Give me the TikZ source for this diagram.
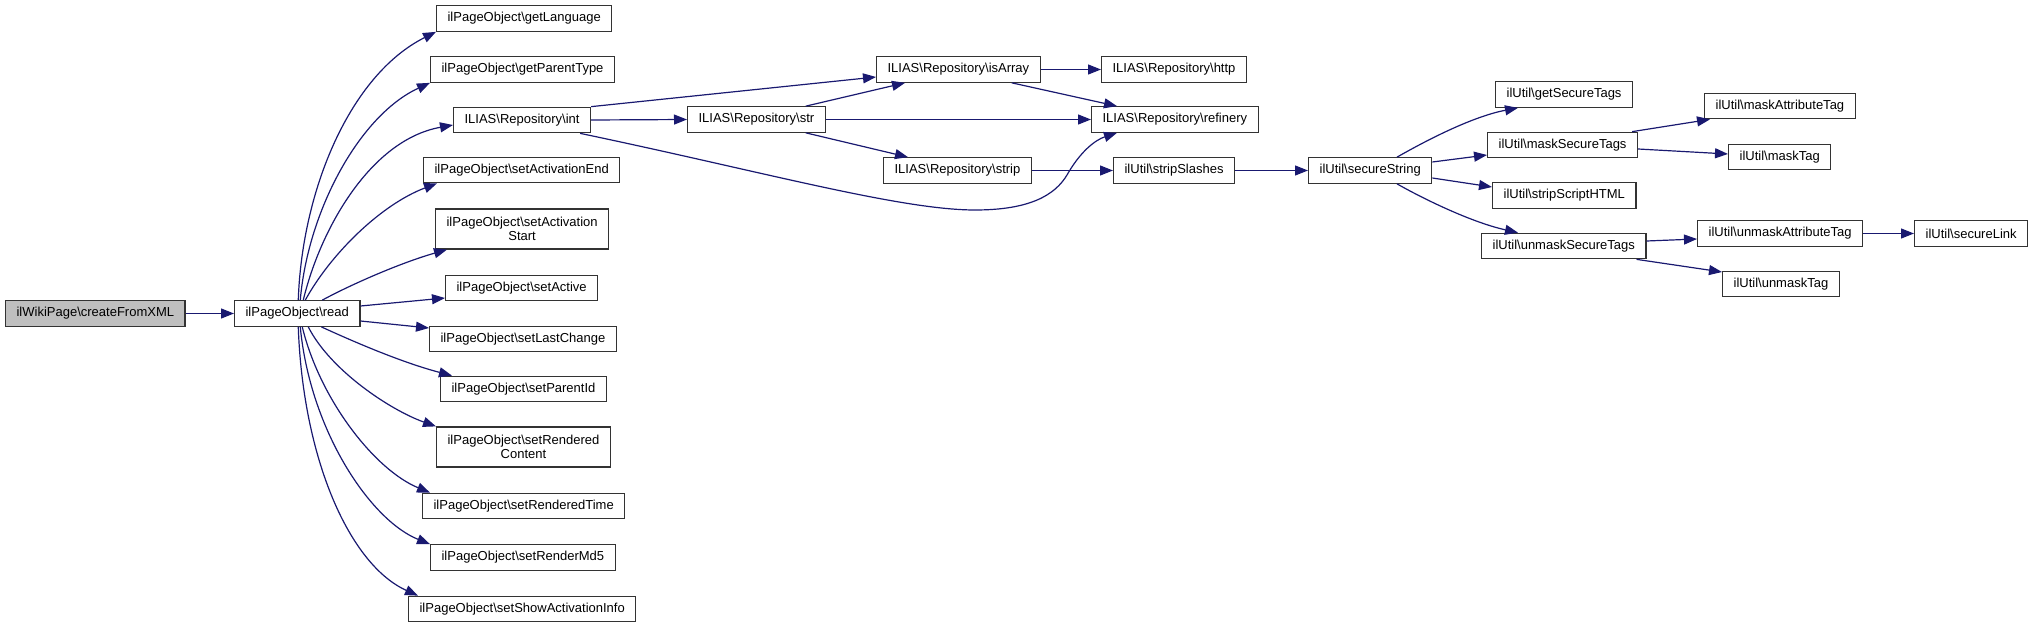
\documentclass[tikz,border=0pt]{standalone}
\usepackage{fontspec}
\setmainfont{Liberation Sans}
\usetikzlibrary{arrows.meta,calc}
\definecolor{edgeblue}{HTML}{191970}
\definecolor{boxline}{HTML}{333333}
\definecolor{rootfill}{HTML}{BFBFBF}
\tikzset{
  box/.style={draw=boxline, line width=1.2bp, fill=white, anchor=west,
    minimum height=25.5bp, inner xsep=11bp, inner ysep=0pt,
    font=\fontsize{13bp}{14.5bp}\selectfont, align=center},
  rootbox/.style={box, fill=rootfill},
  tall/.style={minimum height=40bp},
  call/.style={draw=edgeblue, line width=1.2bp,
    -{Triangle[length=13bp,width=10bp]}, color=edgeblue}
}
\begin{document}
\begin{tikzpicture}[x=1bp,y=-1bp]
\useasboundingbox (0,0) rectangle (2035,627);
% nodes
\node[rootbox] (root) at (5,313.5) {ilWikiPage\textbackslash createFromXML};
\node[box] (read) at (234,313.5) {ilPageObject\textbackslash read};
\node[box] (gl) at (436,18.5) {ilPageObject\textbackslash getLanguage};
\node[box] (gpt) at (430,69.5) {ilPageObject\textbackslash getParentType};
\node[box] (int) at (453,120) {ILIAS\textbackslash Repository\textbackslash int};
\node[box] (sae) at (423,170) {ilPageObject\textbackslash setActivationEnd};
\node[box,tall] (sas) at (435,229) {ilPageObject\textbackslash setActivation\\Start};
\node[box] (sa) at (445,288) {ilPageObject\textbackslash setActive};
\node[box] (slc) at (429,339) {ilPageObject\textbackslash setLastChange};
\node[box] (spi) at (440,389) {ilPageObject\textbackslash setParentId};
\node[box,tall] (src) at (436,447) {ilPageObject\textbackslash setRendered\\Content};
\node[box] (srt) at (422,506) {ilPageObject\textbackslash setRenderedTime};
\node[box] (smd) at (430,557.5) {ilPageObject\textbackslash setRenderMd5};
\node[box] (ssai) at (408,609) {ilPageObject\textbackslash setShowActivationInfo};
\node[box] (str) at (687,119.5) {ILIAS\textbackslash Repository\textbackslash str};
\node[box] (isa) at (876,69.5) {ILIAS\textbackslash Repository\textbackslash isArray};
\node[box] (http) at (1101,69.5) {ILIAS\textbackslash Repository\textbackslash http};
\node[box] (ref) at (1091,119.5) {ILIAS\textbackslash Repository\textbackslash refinery};
\node[box] (strip) at (883,170.5) {ILIAS\textbackslash Repository\textbackslash strip};
\node[box] (ssl) at (1113,170.5) {ilUtil\textbackslash stripSlashes};
\node[box] (ss) at (1308,170.5) {ilUtil\textbackslash secureString};
\node[box] (gst) at (1495,94.5) {ilUtil\textbackslash getSecureTags};
\node[box] (mst) at (1487,145) {ilUtil\textbackslash maskSecureTags};
\node[box] (ssh) at (1492,195.5) {ilUtil\textbackslash stripScriptHTML};
\node[box] (ust) at (1481,246) {ilUtil\textbackslash unmaskSecureTags};
\node[box] (mat) at (1704,106) {ilUtil\textbackslash maskAttributeTag};
\node[box] (mt) at (1728,157) {ilUtil\textbackslash maskTag};
\node[box] (uat) at (1697,233.5) {ilUtil\textbackslash unmaskAttributeTag};
\node[box] (sl) at (1914,233.5) {ilUtil\textbackslash secureLink};
\node[box] (ut) at (1722,284) {ilUtil\textbackslash unmaskTag};
% edges
\draw[call] (root.east) -- (read.west);
\draw[call] ($(read.north)+(1,0)$) .. controls (302,190) and (350,75) .. (gl.south west);
\draw[call] ($(read.north)+(3,0)$) .. controls (308,210) and (360,115) .. (gpt.south west);
\draw[call] ($(read.north)+(6,0)$) .. controls (320,230) and (370,140) .. ($(int.west)+(0,5)$);
\draw[call] ($(read.north)+(8,0)$) .. controls (330,255) and (380,205) .. ($(sae.south west)+(14,0)$);
\draw[call] ($(read.north)+(25,0)$) .. controls (350,285) and (400,263) .. ($(sas.south west)+(12,0)$);
\draw[call] ($(read.east)+(0,-7.5)$) -- ($(sa.west)+(0,10)$);
\draw[call] ($(read.east)+(0,7.5)$) -- ($(slc.west)+(0,-11)$);
\draw[call] ($(read.south)+(24,0)$) .. controls (350,340) and (400,362) .. ($(spi.north west)+(12,0)$);
\draw[call] ($(read.south)+(11,0)$) .. controls (330,370) and (390,410) .. (src.north west);
\draw[call] ($(read.south)+(5,0)$) .. controls (320,400) and (375,470) .. ($(srt.north west)+(8,0)$);
\draw[call] ($(read.south)+(3,0)$) .. controls (310,430) and (370,520) .. (smd.north west);
\draw[call] ($(read.south)+(1,0)$) .. controls (303,460) and (350,565) .. ($(ssai.north west)+(10,0)$);
\draw[call] (int.east) -- (str.west);
\draw[call] (int.north east) -- ($(isa.west)+(0,7.5)$);
\draw[call] ($(int.south east)+(-11,0)$) .. controls (760,171) and (900,210) .. (975,210)
  .. controls (1030,210) and (1055,195) .. (1067,175)
  .. controls (1080,152) and (1095,140) .. ($(ref.south west)+(26,0)$);
\draw[call] ($(str.north east)+(-20,0)$) -- ($(isa.south west)+(29,0)$);
\draw[call] (str.east) -- (ref.west);
\draw[call] ($(str.south east)+(-20,0)$) -- ($(strip.north west)+(25,0)$);
\draw[call] (isa.east) -- (http.west);
\draw[call] ($(isa.south east)+(-29,0)$) -- ($(ref.north west)+(26,0)$);
\draw[call] (strip.east) -- (ssl.west);
\draw[call] (ssl.east) -- (ss.west);
\draw[call] ($(ss.north west)+(89,0)$) .. controls (1420,144) and (1470,117) .. ($(gst.south west)+(23,0)$);
\draw[call] ($(ss.east)+(0,-8.5)$) -- ($(mst.west)+(0,10)$);
\draw[call] ($(ss.east)+(0,7.5)$) -- ($(ssh.west)+(0,-8.5)$);
\draw[call] ($(ss.south west)+(89,0)$) .. controls (1420,197) and (1470,222) .. ($(ust.north west)+(37,0)$);
\draw[call] ($(mst.north east)+(-6,0)$) -- ($(mat.south west)+(6,0)$);
\draw[call] ($(mst.east)+(0,4)$) -- ($(mt.west)+(0,-3)$);
\draw[call] ($(ust.east)+(0,-5)$) -- ($(uat.west)+(0,5.5)$);
\draw[call] ($(ust.south east)+(-10,0)$) -- ($(ut.west)+(0,-12)$);
\draw[call] (uat.east) -- (sl.west);
\end{tikzpicture}
\end{document}
